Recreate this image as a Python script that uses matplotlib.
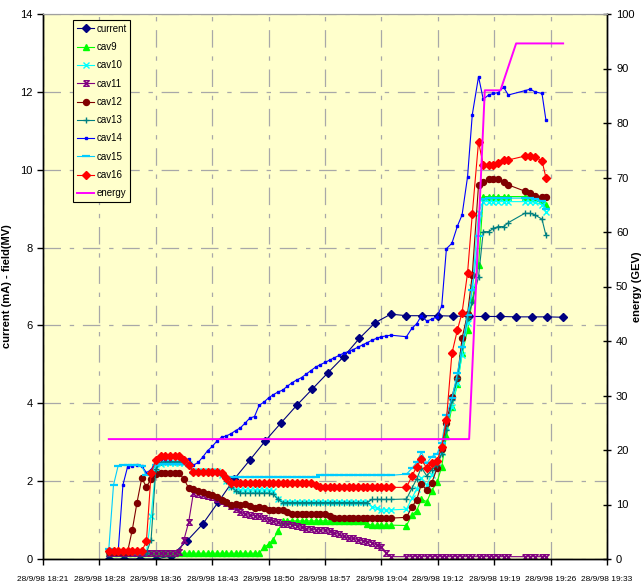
import numpy as np
import matplotlib
matplotlib.use('Agg')
import matplotlib.pyplot as plt
from matplotlib.path import Path

plt.rcParams['font.family'] = ['Liberation Sans', 'DejaVu Sans']

# time in minutes after 18:00 on 28/9/98
tick_pos = [21.6, 28.8, 36.0, 43.2, 50.4, 57.6, 64.8, 72.0, 79.2, 86.4, 93.6]
tick_lab = ['28/9/98 18:21', '28/9/98 18:28', '28/9/98 18:36', '28/9/98 18:43',
            '28/9/98 18:50', '28/9/98 18:57', '28/9/98 19:04', '28/9/98 19:12',
            '28/9/98 19:19', '28/9/98 19:26', '28/9/98 19:33']

t_cur = [30, 32, 34, 36, 38, 40, 42, 44, 46, 48, 50, 52, 54, 56, 58,
         60, 62, 64, 66, 68, 70, 72, 74, 76, 78, 80, 82, 84, 86, 88]
current = [0.0, 0.0, 0.0, 0.0, 0.08, 0.47, 0.90, 1.47, 2.05, 2.54, 3.04, 3.50, 3.95, 4.37, 4.79,
           5.20, 5.67, 6.07, 6.29, 6.25, 6.25, 6.25, 6.24, 6.23, 6.23, 6.23, 6.22, 6.22, 6.22, 6.21]

t_en = [30.0, 76.0, 78.0, 80.0, 82.0, 88.0]
energy = [22.0, 22.0, 86.0, 86.0, 94.6, 94.6]

t_cav = [30.0, 30.6, 31.2, 31.8, 32.4, 33.0, 33.6, 34.2, 34.8, 35.4,
         36.0, 36.6, 37.2, 37.8, 38.4, 39.0, 39.6, 40.2, 40.8, 41.4,
         42.0, 42.6, 43.2, 43.8, 44.4, 45.0, 45.6, 46.2, 46.8, 47.4,
         48.0, 48.6, 49.2, 49.8, 50.4, 51.0, 51.6, 52.2, 52.8, 53.4,
         54.0, 54.6, 55.2, 55.8, 56.4, 57.0, 57.6, 58.2, 58.8, 59.4,
         60.0, 60.6, 61.2, 61.8, 62.4, 63.0, 63.6, 64.2, 64.8, 65.4,
         66.0,
         68.0, 68.7, 69.3, 69.9, 70.6, 71.2, 71.9, 72.5, 73.1, 73.8,
         74.5, 75.1, 75.8, 76.4, 77.2, 77.8, 78.5, 79.1, 79.7, 80.4,
         81.0, 83.1, 83.8, 84.4, 85.3, 85.8]

cav9 = [0.15, 0.15, 0.15, 0.15, 0.15, 0.15, 0.15, 0.15, 0.15, 0.15,
        0.15, 0.15, 0.15, 0.15, 0.15, 0.15, 0.15, 0.15, 0.15, 0.15,
        0.15, 0.15, 0.15, 0.15, 0.15, 0.15, 0.15, 0.15, 0.15, 0.15,
        0.15, 0.15, 0.15, 0.30, 0.38, 0.50, 0.72, 0.97, 0.98, 0.98,
        0.98, 0.98, 0.98, 0.98, 0.98, 0.98, 0.98, 0.98, 0.98, 0.98,
        0.98, 0.98, 0.98, 0.98, 0.98, 0.90, 0.87, 0.87, 0.87, 0.87,
        0.87,
        0.86, 1.13, 1.24, 1.54, 1.47, 1.75, 1.97, 2.37, 3.16, 3.91,
        4.49, 5.28, 5.88, 6.65, 7.55, 9.31, 9.31, 9.31, 9.31, 9.31,
        9.31, 9.31, 9.31, 9.27, 9.21, 9.09]

cav10 = [0.15, 0.15, 0.15, 0.15, 0.15, 0.15, 0.15, 0.15, 0.15, 1.10,
         2.35, 2.45, 2.47, 2.47, 2.47, 2.47, 2.47, 2.43, 2.27, 2.25,
         2.25, 2.25, 2.25, 2.25, 2.15, 2.00, 1.85, 1.78, 1.77, 1.77,
         1.77, 1.77, 1.77, 1.77, 1.77, 1.75, 1.55, 1.47, 1.47, 1.47,
         1.47, 1.47, 1.47, 1.47, 1.47, 1.47, 1.47, 1.47, 1.47, 1.47,
         1.47, 1.47, 1.47, 1.47, 1.47, 1.47, 1.34, 1.30, 1.26, 1.26,
         1.26,
         1.28, 1.56, 1.80, 2.07, 1.90, 2.16, 2.37, 2.75, 3.40, 3.91,
         4.51, 5.24, 6.05, 7.00, 8.90, 9.18, 9.18, 9.18, 9.18, 9.18,
         9.18, 9.18, 9.18, 9.16, 9.10, 8.92]

cav11 = [0.15, 0.15, 0.15, 0.15, 0.15, 0.15, 0.15, 0.15, 0.15, 0.15,
         0.15, 0.15, 0.15, 0.15, 0.15, 0.18, 0.50, 0.95, 1.70, 1.68,
         1.65, 1.62, 1.60, 1.55, 1.50, 1.43, 1.36, 1.29, 1.21, 1.15,
         1.12, 1.11, 1.10, 1.06, 1.01, 0.98, 0.94, 0.91, 0.89, 0.88,
         0.85, 0.81, 0.78, 0.76, 0.75, 0.75, 0.74, 0.71, 0.67, 0.63,
         0.58, 0.54, 0.53, 0.50, 0.46, 0.44, 0.42, 0.36, 0.31, 0.15,
         0.06,
         0.06, 0.06, 0.06, 0.06, 0.06, 0.06, 0.06, 0.06, 0.06, 0.06,
         0.06, 0.06, 0.06, 0.06, 0.06, 0.06, 0.06, 0.06, 0.06, 0.06,
         0.06, 0.06, 0.06, 0.06, 0.06, 0.06]

cav12 = [0.18, 0.18, 0.18, 0.18, 0.19, 0.75, 1.45, 2.07, 1.86, 2.05,
         2.18, 2.20, 2.20, 2.20, 2.20, 2.20, 2.05, 1.82, 1.79, 1.74,
         1.72, 1.68, 1.65, 1.60, 1.52, 1.47, 1.39, 1.42, 1.39, 1.41,
         1.35, 1.31, 1.33, 1.32, 1.26, 1.26, 1.26, 1.26, 1.22, 1.16,
         1.16, 1.16, 1.16, 1.16, 1.16, 1.16, 1.16, 1.10, 1.05, 1.05,
         1.05, 1.05, 1.05, 1.05, 1.05, 1.05, 1.05, 1.05, 1.05, 1.05,
         1.05,
         1.07, 1.34, 1.52, 1.92, 1.77, 1.94, 2.33, 2.83, 3.49, 4.17,
         4.66, 5.67, 6.30, 7.30, 9.61, 9.69, 9.75, 9.75, 9.75, 9.69,
         9.61, 9.45, 9.39, 9.32, 9.31, 9.31]

cav13 = [0.15, 0.15, 0.15, 0.15, 0.15, 0.15, 0.15, 0.15, 0.15, 0.50,
         2.30, 2.48, 2.50, 2.50, 2.50, 2.50, 2.50, 2.45, 2.25, 2.24,
         2.24, 2.24, 2.24, 2.24, 2.15, 2.00, 1.86, 1.75, 1.69, 1.69,
         1.69, 1.69, 1.69, 1.69, 1.69, 1.66, 1.53, 1.45, 1.45, 1.45,
         1.45, 1.45, 1.45, 1.45, 1.45, 1.45, 1.45, 1.45, 1.45, 1.45,
         1.45, 1.45, 1.45, 1.45, 1.45, 1.45, 1.53, 1.53, 1.53, 1.53,
         1.53,
         1.54, 1.82, 2.05, 2.35, 2.13, 2.29, 2.41, 2.70, 3.31, 4.08,
         4.64, 5.45, 6.18, 6.60, 7.25, 8.41, 8.41, 8.49, 8.54, 8.54,
         8.64, 8.88, 8.88, 8.84, 8.73, 8.32]

cav14 = [0.20, 0.20, 0.20, 1.90, 2.37, 2.40, 2.41, 2.39, 2.22, 2.29,
         2.52, 2.56, 2.57, 2.58, 2.59, 2.59, 2.57, 2.56, 2.41, 2.48,
         2.62, 2.78, 2.89, 3.03, 3.13, 3.16, 3.22, 3.30, 3.37, 3.49,
         3.62, 3.66, 3.95, 4.03, 4.14, 4.22, 4.29, 4.34, 4.44, 4.53,
         4.60, 4.66, 4.75, 4.84, 4.93, 4.99, 5.05, 5.11, 5.17, 5.23,
         5.29, 5.33, 5.38, 5.44, 5.50, 5.56, 5.62, 5.67, 5.71, 5.73,
         5.75,
         5.71, 5.93, 6.04, 6.25, 6.11, 6.16, 6.22, 6.50, 7.97, 8.11,
         8.55, 8.84, 9.82, 11.41, 12.39, 11.81, 11.92, 11.96, 11.98, 12.12,
         11.92, 12.03, 12.07, 12.00, 11.96, 11.28]

cav15 = [0.25, 1.90, 2.40, 2.42, 2.42, 2.42, 2.42, 2.38, 2.15, 2.20,
         2.42, 2.45, 2.45, 2.45, 2.45, 2.45, 2.45, 2.40, 2.20, 2.18,
         2.18, 2.18, 2.18, 2.18, 2.15, 2.11, 2.11, 2.11, 2.11, 2.11,
         2.11, 2.11, 2.11, 2.11, 2.11, 2.11, 2.11, 2.11, 2.11, 2.11,
         2.11, 2.11, 2.11, 2.11, 2.11, 2.15, 2.15, 2.15, 2.15, 2.15,
         2.15, 2.15, 2.15, 2.15, 2.15, 2.15, 2.15, 2.15, 2.15, 2.15,
         2.15,
         2.18, 2.33, 2.48, 2.74, 2.46, 2.63, 2.70, 2.99, 3.70, 4.13,
         4.77, 5.45, 6.27, 6.90, 8.30, 9.25, 9.27, 9.27, 9.27, 9.27,
         9.27, 9.27, 9.27, 9.25, 9.20, 9.00]

cav16 = [0.20, 0.20, 0.20, 0.20, 0.20, 0.20, 0.20, 0.20, 0.45, 2.20,
         2.55, 2.65, 2.65, 2.65, 2.65, 2.65, 2.55, 2.42, 2.23, 2.23,
         2.23, 2.23, 2.23, 2.23, 2.20, 2.07, 1.96, 1.95, 1.95, 1.95,
         1.95, 1.95, 1.95, 1.95, 1.95, 1.95, 1.95, 1.95, 1.95, 1.95,
         1.95, 1.95, 1.95, 1.95, 1.90, 1.84, 1.84, 1.84, 1.84, 1.84,
         1.84, 1.84, 1.84, 1.84, 1.84, 1.84, 1.84, 1.84, 1.84, 1.84,
         1.84,
         1.84, 2.13, 2.37, 2.56, 2.33, 2.46, 2.52, 2.88, 3.57, 5.28,
         5.88, 6.33, 7.35, 8.86, 10.72, 10.12, 10.12, 10.12, 10.16, 10.25,
         10.25, 10.35, 10.35, 10.33, 10.23, 9.80]

# hourglass-like marker that excel used for cav11
star = Path([(-1, 1), (1, 1), (-1, -1), (1, -1), (-1, 1)],
            [Path.MOVETO, Path.LINETO, Path.LINETO, Path.LINETO, Path.LINETO])

fig = plt.figure(figsize=(6.41, 5.87), dpi=100)
ax = fig.add_axes([43/641, 1-559/587, 564/641, 545/587])
ax.set_facecolor('#FFFFCC')
ax2 = ax.twinx()

series = [
    ('current', t_cur, current, '#000080', dict(marker='D', ms=3.6)),
    ('cav9', t_cav, cav9, '#00FF00', dict(marker='^', ms=4)),
    ('cav10', t_cav, cav10, '#00FFFF', dict(marker='x', ms=4, mew=1.0)),
    ('cav11', t_cav, cav11, '#800080', dict(marker=star, ms=4, mew=1.0, mfc='none')),
    ('cav12', t_cav, cav12, '#800000', dict(marker='o', ms=4.3)),
    ('cav13', t_cav, cav13, '#008080', dict(marker='+', ms=5, mew=1.0)),
    ('cav14', t_cav, cav14, '#0000FF', dict(marker='s', ms=1.8)),
    ('cav15', t_cav, cav15, '#00CCFF', dict(marker='_', ms=5.5, mew=1.6)),
    ('cav16', t_cav, cav16, '#FF0000', dict(marker='D', ms=3.8)),
]

handles = []
for name, tt, vv, col, kw in series:
    ln, = ax.plot(tt, vv, color=col, lw=0.8, mec=col, mfc=kw.pop('mfc', col),
                  label=name, **kw)
    handles.append(ln)

en, = ax2.plot(t_en, energy, color='#FF00FF', lw=1.4, label='energy')
handles.append(en)

ax.set_xlim(21.6, 93.6)
ax.set_ylim(0, 14)
ax2.set_ylim(0, 100)
ax.set_xticks(tick_pos)
ax.set_xticklabels(tick_lab, fontsize=6.0, family=['Liberation Sans Narrow', 'Liberation Sans'])
ax.set_yticks(np.arange(0, 15, 2))
ax2.set_yticks(np.arange(0, 101, 10))
ax.tick_params(axis='y', labelsize=8, direction='out', length=4, width=1)
ax.tick_params(axis='x', direction='out', length=4, width=1, pad=8)
ax2.tick_params(axis='y', labelsize=8, direction='inout', length=6, width=1)

ax.grid(True, color='#A8A8A8', lw=0.9, linestyle=(0, (14, 7, 3.5, 7)))
ax.set_axisbelow(True)

for a in (ax, ax2):
    a.spines['top'].set_color('#A0A0A0')
    for s in ('left', 'right', 'bottom'):
        a.spines[s].set_linewidth(1.0)

ax.set_ylabel('current (mA) - field(MV)', fontsize=8, fontweight='bold')
ax.yaxis.set_label_coords(-0.055, 0.5)
ax2.set_ylabel('energy (GEV)', fontsize=8, fontweight='bold')
ax2.yaxis.set_label_coords(1.044, 0.5)

leg = ax2.legend(handles=handles, loc='upper left', bbox_to_anchor=(0.053, 0.989),
                 borderaxespad=0, fontsize=7, labelspacing=0.85, handlelength=1.8,
                 handletextpad=0.2, borderpad=0.4, fancybox=False,
                 facecolor='#FFFFCC', edgecolor='black', framealpha=1)
leg.get_frame().set_linewidth(0.8)

fig.savefig('out.png', dpi=100)
